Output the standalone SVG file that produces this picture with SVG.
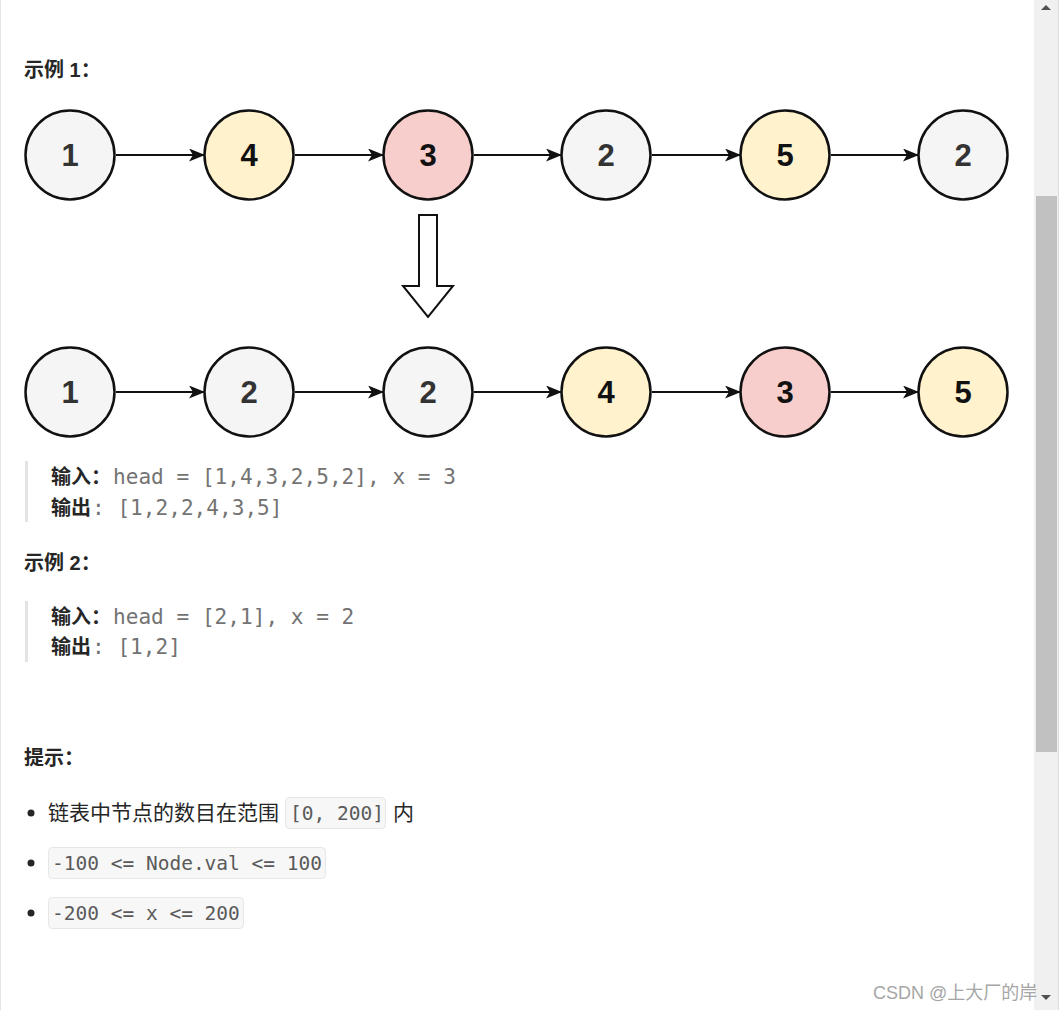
<svg xmlns="http://www.w3.org/2000/svg" width="1059" height="1010" viewBox="0 0 1059 1010">
<defs>
<style>
.nd circle{stroke:#111;stroke-width:2.5}
.g{fill:#f5f5f5}.y{fill:#fff2cc}.r{fill:#f8cecc}
.nt{font-family:"Liberation Sans",Arial,sans-serif;font-weight:bold;font-size:31px;text-anchor:middle}
.dk{fill:#333}.bk{fill:#111}
.h{font-family:"Liberation Sans","Noto Sans CJK SC",sans-serif;font-weight:bold;font-size:20px;fill:#262626}
.lb{font-family:"Noto Sans CJK SC",sans-serif;font-weight:bold;font-size:20px;fill:#262626}
.mono{font-family:"DejaVu Sans Mono","Liberation Mono",monospace;font-size:21.1px;fill:#737373}
.body{font-family:"Noto Sans CJK SC","Liberation Sans",sans-serif;font-size:21px;fill:#262626}
.code{font-family:"DejaVu Sans Mono","Liberation Mono",monospace;font-size:19.5px;fill:#5a5a5a}
.cb{fill:#f7f7f7;stroke:#e6e6e6;stroke-width:1}
.bar{fill:#e3e3e3}
.edge{stroke:#111;stroke-width:2;fill:none;marker-end:url(#ah)}
</style>
<marker id="ah" viewBox="0 0 16 13" refX="15" refY="6.5" markerWidth="16" markerHeight="13" markerUnits="userSpaceOnUse" orient="auto">
<path d="M0,0 L16,6.5 L0,13 L4,6.5 Z" fill="#111"/>
</marker>
</defs>
<rect width="1059" height="1010" fill="#fff"/>
<line x1="0.5" y1="0" x2="0.5" y2="1010" stroke="#e4e4e4"/>
<text class="h" x="24" y="77">示例 1：</text>
<g id="connectors">
<line class="edge" x1="116" y1="155" x2="204" y2="155"/>
<line class="edge" x1="295" y1="155" x2="383" y2="155"/>
<line class="edge" x1="474" y1="155" x2="561" y2="155"/>
<line class="edge" x1="652" y1="155" x2="740" y2="155"/>
<line class="edge" x1="831" y1="155" x2="918" y2="155"/>
<line class="edge" x1="116" y1="392" x2="204" y2="392"/>
<line class="edge" x1="295" y1="392" x2="383" y2="392"/>
<line class="edge" x1="474" y1="392" x2="561" y2="392"/>
<line class="edge" x1="652" y1="392" x2="740" y2="392"/>
<line class="edge" x1="831" y1="392" x2="918" y2="392"/>
</g>
<g id="n1a" class="nd"><circle class="g" cx="70" cy="155" r="44.5"/><text class="nt dk" x="70" y="166">1</text></g>
<g id="n4a" class="nd"><circle class="y" cx="249" cy="155" r="44.5"/><text class="nt bk" x="249" y="166">4</text></g>
<g id="n3a" class="nd"><circle class="r" cx="428" cy="155" r="44.5"/><text class="nt bk" x="428" y="166">3</text></g>
<g id="n2a" class="nd"><circle class="g" cx="606" cy="155" r="44.5"/><text class="nt dk" x="606" y="166">2</text></g>
<g id="n5a" class="nd"><circle class="y" cx="785" cy="155" r="44.5"/><text class="nt bk" x="785" y="166">5</text></g>
<g id="n2b" class="nd"><circle class="g" cx="963" cy="155" r="44.5"/><text class="nt dk" x="963" y="166">2</text></g>
<g id="bigarrow"><path d="M419,215 L437,215 L437,286 L453,286 L428,317 L403,286 L419,286 Z" fill="#fff" stroke="#111" stroke-width="2" stroke-linejoin="miter"/></g>
<g id="m1" class="nd"><circle class="g" cx="70" cy="392" r="44.5"/><text class="nt dk" x="70" y="403">1</text></g>
<g id="m2" class="nd"><circle class="g" cx="249" cy="392" r="44.5"/><text class="nt dk" x="249" y="403">2</text></g>
<g id="m3" class="nd"><circle class="g" cx="428" cy="392" r="44.5"/><text class="nt dk" x="428" y="403">2</text></g>
<g id="m4" class="nd"><circle class="y" cx="606" cy="392" r="44.5"/><text class="nt bk" x="606" y="403">4</text></g>
<g id="m5" class="nd"><circle class="r" cx="785" cy="392" r="44.5"/><text class="nt bk" x="785" y="403">3</text></g>
<g id="m6" class="nd"><circle class="y" cx="963" cy="392" r="44.5"/><text class="nt bk" x="963" y="403">5</text></g>
<rect class="bar" x="25" y="461" width="3" height="61"/>
<text class="lb" x="51" y="484">输入：</text>
<text class="mono" x="113" y="484">head = [1,4,3,2,5,2], x = 3</text>
<text class="lb" x="51" y="515">输出</text>
<text class="mono" x="92" y="515">: [1,2,2,4,3,5]</text>
<text class="h" x="24" y="570">示例 2：</text>
<rect class="bar" x="25" y="601" width="3" height="61"/>
<text class="lb" x="51" y="624">输入：</text>
<text class="mono" x="113" y="624">head = [2,1], x = 2</text>
<text class="lb" x="51" y="654">输出</text>
<text class="mono" x="92" y="654">: [1,2]</text>
<text class="h" x="24" y="765">提示：</text>
<circle cx="31" cy="813" r="3.5" fill="#262626"/>
<text class="body" x="48" y="820">链表中节点的数目在范围</text>
<rect class="cb" x="285.5" y="797.5" width="100" height="31" rx="4"/>
<text class="code" x="290" y="820">[0, 200]</text>
<text class="body" x="393" y="820">内</text>
<circle cx="31" cy="863" r="3.5" fill="#262626"/>
<rect class="cb" x="48.5" y="847.5" width="277" height="31" rx="4"/>
<text class="code" x="52" y="870">-100 &lt;= Node.val &lt;= 100</text>
<circle cx="31" cy="913" r="3.5" fill="#262626"/>
<rect class="cb" x="48.5" y="897.5" width="195" height="31" rx="4"/>
<text class="code" x="52" y="920">-200 &lt;= x &lt;= 200</text>
<g id="scrollbar">
<rect x="1034" y="0" width="25" height="1010" fill="#f0f0f0"/>
<line x1="1058.5" y1="0" x2="1058.5" y2="1010" stroke="#dcdcdc"/>
<rect x="1036" y="196" width="21" height="556" fill="#c1c1c1"/>
<path d="M1041,10 L1051,10 L1046,5 Z" fill="#505050"/>
</g>
<text x="873" y="999" font-family="Liberation Sans,Arial,Noto Sans CJK SC,sans-serif" font-size="18" fill="#a6a6a6">CSDN @上大厂的岸</text>
<path d="M1041,995 L1051,995 L1046,1000 Z" fill="#505050"/>
</svg>
